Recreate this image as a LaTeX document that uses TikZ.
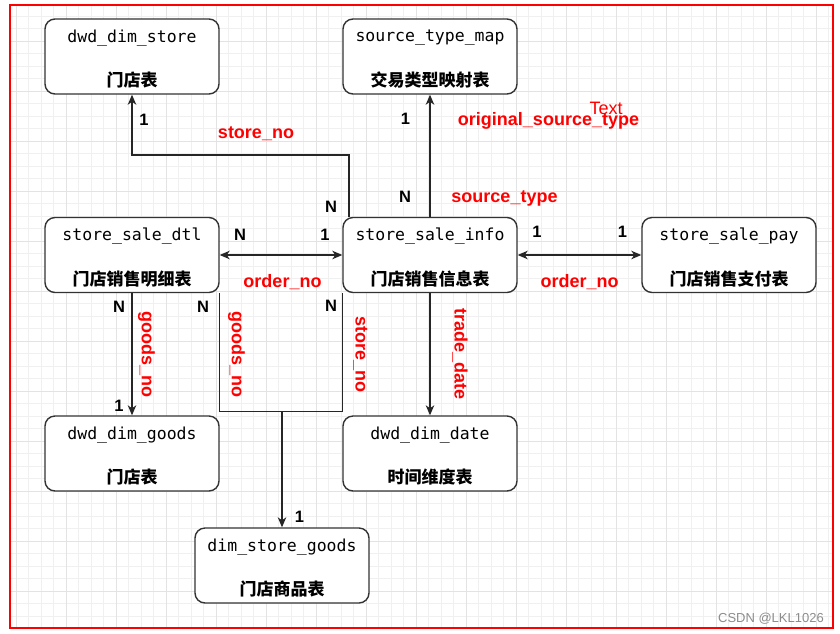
\documentclass[tikz,border=0pt]{standalone}
\usepackage{fontspec}
\setmainfont{Liberation Sans}
\setmonofont{DejaVu Sans Mono}
\newfontfamily\cjk{Noto Sans CJK SC}
\usetikzlibrary{arrows.meta,calc}

\begin{document}
\begin{tikzpicture}[x=1pt,y=-1pt,
		tbl/.style={draw=black!80,line width=1.4pt,rounded corners=10pt,fill=white,
			minimum width=174pt,minimum height=75pt,inner sep=0pt},
		tname/.style={font=\ttfamily\fontsize{16.5}{18}\selectfont,inner sep=0pt},
		cname/.style={font=\cjk\bfseries\fontsize{17}{19}\selectfont,inner sep=0pt},
		key/.style={text=red,font=\bfseries\fontsize{18}{20}\selectfont,inner sep=0pt},
		card/.style={font=\bfseries\fontsize{16.5}{18}\selectfont,inner sep=0pt},
		wire/.style={draw=black!85,line width=1.4pt},
		conn/.style={wire,-{Stealth[length=10pt,width=8.5pt,inset=3pt]}},
		biconn/.style={wire,{Stealth[length=10pt,width=8.5pt,inset=3pt]}-{Stealth[length=10pt,width=8.5pt,inset=3pt]}}]
			\useasboundingbox (0,0) rectangle (840,633);
			\fill[white] (0,0) rectangle (840,633);

			% grid
			\foreach \k in {0,...,65} \draw[black!6,line width=0.8pt] (16+12.5*\k,5) -- (16+12.5*\k,628);
			\foreach \k in {0,...,48} \draw[black!6,line width=0.8pt] (10,16+12.5*\k) -- (833,16+12.5*\k);
			\foreach \k in {0,...,16} \draw[black!11,line width=0.8pt] (16+50*\k,5) -- (16+50*\k,628);
			\foreach \k in {0,...,11} \draw[black!11,line width=0.8pt] (10,41+50*\k) -- (833,41+50*\k);

			% tables
			\foreach \n/\x/\y/\t/\c in {dimstore/132/56.5/dwd\_dim\_store/门店表,
				stmap/430/56.5/source\_type\_map/交易类型映射表,
				dtl/132/255/store\_sale\_dtl/门店销售明细表,
				info/430/255/store\_sale\_info/门店销售信息表,
				pay/729/255/store\_sale\_pay/门店销售支付表,
				dimgoods/132/453.5/dwd\_dim\_goods/门店表,
				dimdate/430/453.5/dwd\_dim\_date/时间维度表,
				storegoods/282/565.5/dim\_store\_goods/门店商品表} {
				\node[tbl] (\n) at (\x,\y) {};
				\node[tname] (\n-t) at ([yshift=-19.5pt]\n.north) {\t};
				\node[cname] (\n-c) at ([yshift=-62pt]\n.north) {\c};
			}

			% connectors
			\draw[conn] ([xshift=6.5pt]info.north west) -- ++(0,-62) -| (dimstore.south);
			\draw[conn] (info.north) -- (stmap.south);
			\draw[biconn] (dtl.east) -- (info.west);
			\draw[biconn] (info.east) -- (pay.west);
			\draw[conn] (dtl.south) -- (dimgoods.north);
			\draw[conn] (info.south) -- (dimdate.north);
			\draw[wire] (dtl.south east) -- ++(0,118.5) -| (info.south west);
			\coordinate (split) at (282,411);
			\draw[conn] (split) -- (storegoods.north);

			% cardinalities
			\foreach \x/\y/\s [count=\i] in {144/119.5/1, 331/207/N, 405.5/119/1, 405/197/N,
				240/234.5/N, 325/234.5/1, 537/231.5/1, 622.5/231.5/1,
				119/306.5/N, 203/306.5/N, 331/306/N, 119/406/1, 299.5/517/1}
				\node[card] (card\i) at (\x,\y) {\s};

			% keys
			\node[key,anchor=base] (k-store) at (256,138) {store\_no};
			\node[key,anchor=base] (k-orig) at (548.5,125) {original\_source\_type};
			\node[key,anchor=base] (k-src) at (504.5,202.5) {source\_type};
			\node[key,anchor=base] (k-ord1) at (282.5,287) {order\_no};
			\node[key,anchor=base] (k-ord2) at (579.5,287) {order\_no};
			\node[key,rotate=-90] (k-goods1) at (146.5,354.5) {goods\_no};
			\node[key,rotate=-90] (k-goods2) at (236.5,354.5) {goods\_no};
			\node[key,rotate=-90] (k-store2) at (360.5,354) {store\_no};
			\node[key,rotate=-90] (k-date) at (460,354) {trade\_date};
			\node[text=red,font=\fontsize{18}{20}\selectfont,inner sep=0pt,anchor=base] (txt) at (606,114) {Text};

			\node[text=black!45,font=\fontsize{13}{15}\selectfont,inner sep=0pt,anchor=base east] (mark) at (824,622) {CSDN @LKL1026};
			\draw[red,line width=1.5pt] (10,5) rectangle (833,628);
		\end{tikzpicture}
\end{document}
